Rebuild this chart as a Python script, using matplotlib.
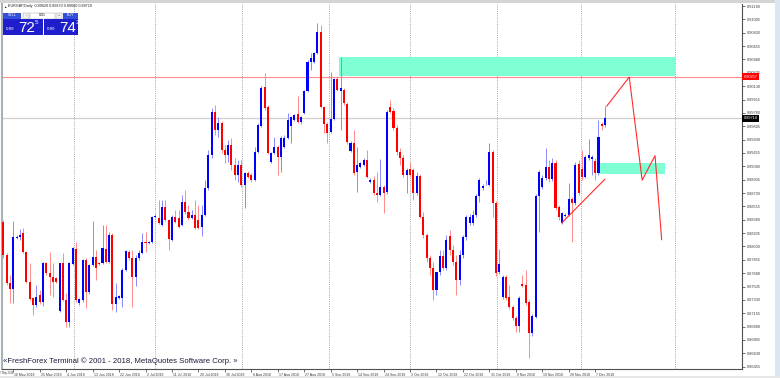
import matplotlib
matplotlib.use("Agg")
import matplotlib.pyplot as plt
import numpy as np
from matplotlib.patches import Rectangle
from matplotlib.transforms import ScaledTranslation

plt.rcParams["font.family"] = ["Liberation Sans", "DejaVu Sans"]

# daily EURGBP candles
opens = [
    0.8835, 0.8792, 0.8755, 0.8747, 0.8814, 0.8815, 0.8821, 0.8796, 0.8757, 0.8736,
    0.8726, 0.8740, 0.8730, 0.8781, 0.8768, 0.8763, 0.8762, 0.8719, 0.8781, 0.8733,
    0.8704, 0.8780, 0.8800, 0.8729, 0.8733, 0.8785, 0.8743, 0.8779, 0.8789, 0.8781,
    0.8781, 0.8800, 0.8783, 0.8818, 0.8728, 0.8736, 0.8736, 0.8772, 0.8796, 0.8788,
    0.8763, 0.8788, 0.8795, 0.8809, 0.8808, 0.8809, 0.8842, 0.8840, 0.8831, 0.8855,
    0.8838, 0.8812, 0.8842, 0.8840, 0.8831, 0.8861, 0.8848, 0.8840, 0.8844, 0.8838,
    0.8829, 0.8844, 0.8880, 0.8923, 0.8979, 0.8956, 0.8965, 0.8930, 0.8923, 0.8936,
    0.8910, 0.8897,
    0.8910, 0.8884, 0.8899, 0.8897, 0.8890, 0.8927, 0.8961, 0.9012, 0.8986, 0.8914,
    0.8925, 0.8933, 0.8920, 0.8933, 0.8945, 0.8961, 0.8969, 0.8977, 0.8966, 0.8978,
    0.9007, 0.9045, 0.9045, 0.9056, 0.9084, 0.8986, 0.8963, 0.8953, 0.8970, 0.9022,
    0.9007, 0.9008, 0.8990, 0.8928, 0.8939, 0.8901, 0.8907, 0.8910, 0.8916, 0.8888,
    0.8890, 0.8873, 0.8871, 0.8881, 0.8874, 0.8986, 0.8980, 0.8958, 0.8927, 0.8919,
    0.8897, 0.8905, 0.8903, 0.8873, 0.8896, 0.8842, 0.8818, 0.8788, 0.8775, 0.8746,
    0.8770, 0.8790, 0.8775, 0.8817, 0.8798, 0.8783, 0.8759, 0.8792, 0.8815,
    0.8834, 0.8834, 0.8844, 0.8869, 0.8880, 0.8887, 0.8884, 0.8927, 0.8860, 0.8770,
    0.8737, 0.8763, 0.8737, 0.8724, 0.8709, 0.8699, 0.8754, 0.8753, 0.8730, 0.8690,
    0.8711, 0.8869, 0.8881, 0.8893, 0.8907, 0.8891, 0.8912, 0.8855, 0.8834, 0.8843,
    0.8844, 0.8865, 0.8860, 0.8911, 0.8905, 0.8894, 0.8919, 0.8918, 0.8915, 0.8899,
    0.8963, 0.8962,
]
highs = [
    0.8838, 0.8795, 0.8766, 0.8836, 0.8818, 0.8826, 0.8827, 0.8797, 0.8781, 0.8737,
    0.8753, 0.8746, 0.8783, 0.8783, 0.8796, 0.8781, 0.8763, 0.8781, 0.8794, 0.8742,
    0.8783, 0.8802, 0.8809, 0.8736, 0.8787, 0.8788, 0.8780, 0.8836, 0.8798, 0.8783,
    0.8831, 0.8831, 0.8822, 0.8821, 0.8755, 0.8740, 0.8775, 0.8798, 0.8798, 0.8798,
    0.8792, 0.8798, 0.8821, 0.8822, 0.8810, 0.8843, 0.8846, 0.8864, 0.8864, 0.8864,
    0.8839, 0.8844, 0.8851, 0.8851, 0.8871, 0.8877, 0.8857, 0.8851, 0.8864, 0.8857,
    0.8857, 0.8890, 0.8930, 0.8985, 0.8988, 0.8972, 0.8968, 0.8936, 0.8943, 0.8945,
    0.8919, 0.8916,
    0.8916, 0.8901, 0.8902, 0.8899, 0.8933, 0.8965, 0.9013, 0.9030, 0.8988, 0.8927,
    0.8946, 0.8936, 0.8948, 0.8949, 0.8978, 0.8974, 0.8976, 0.9000, 0.8974, 0.9008,
    0.9047, 0.9056, 0.9058, 0.9096, 0.9093, 0.8987, 0.8966, 0.9032, 0.9024, 0.9026,
    0.9051, 0.9011, 0.8992, 0.8941, 0.8956, 0.8933, 0.8914, 0.8919, 0.8930, 0.8893,
    0.8895, 0.8901, 0.8918, 0.8884, 0.8982, 0.8995, 0.8984, 0.8962, 0.8932, 0.8923,
    0.8906, 0.8914, 0.8906, 0.8901, 0.8898, 0.8848, 0.8821, 0.8792, 0.8783, 0.8762,
    0.8798, 0.8798, 0.8818, 0.8825, 0.8805, 0.8792, 0.8798, 0.8818, 0.8844,
    0.8846, 0.8851, 0.8872, 0.8893, 0.8885, 0.8890, 0.8939, 0.8930, 0.8863, 0.8800,
    0.8766, 0.8766, 0.8753, 0.8726, 0.8712, 0.8738, 0.8766, 0.8772, 0.8733, 0.8715,
    0.8872, 0.8903, 0.8897, 0.8932, 0.8916, 0.8919, 0.8916, 0.8857, 0.8848, 0.8847,
    0.8886, 0.8868, 0.8914, 0.8916, 0.8930, 0.8923, 0.8944, 0.8923, 0.8919, 0.8969,
    0.8966, 0.8987,
]
lows = [
    0.8788, 0.8753, 0.8729, 0.8729, 0.8813, 0.8812, 0.8795, 0.8755, 0.8733, 0.8713,
    0.8724, 0.8728, 0.8725, 0.8766, 0.8740, 0.8737, 0.8755, 0.8717, 0.8732, 0.8698,
    0.8698, 0.8779, 0.8730, 0.8726, 0.8730, 0.8722, 0.8741, 0.8777, 0.8759, 0.8779,
    0.8780, 0.8781, 0.8781, 0.8720, 0.8717, 0.8734, 0.8724, 0.8771, 0.8785, 0.8724,
    0.8751, 0.8785, 0.8793, 0.8796, 0.8806, 0.8808, 0.8840, 0.8832, 0.8830, 0.8836,
    0.8798, 0.8810, 0.8834, 0.8827, 0.8830, 0.8846, 0.8838, 0.8839, 0.8826, 0.8826,
    0.8817, 0.8843, 0.8877, 0.8919, 0.8949, 0.8946, 0.8925, 0.8912, 0.8914, 0.8903,
    0.8890, 0.8888,
    0.8881, 0.8853, 0.8893, 0.8888, 0.8889, 0.8926, 0.8960, 0.8982, 0.8924, 0.8912,
    0.8924, 0.8897, 0.8901, 0.8932, 0.8944, 0.8938, 0.8967, 0.8965, 0.8963, 0.8977,
    0.9005, 0.9034, 0.9043, 0.9055, 0.8984, 0.8952, 0.8938, 0.8952, 0.8969, 0.9007,
    0.8956, 0.8988, 0.8937, 0.8927, 0.8897, 0.8874, 0.8906, 0.8908, 0.8893, 0.8886,
    0.8871, 0.8861, 0.8869, 0.8847, 0.8872, 0.8978, 0.8956, 0.8923, 0.8910, 0.8894,
    0.8873, 0.8894, 0.8864, 0.8871, 0.8840, 0.8814, 0.8783, 0.8766, 0.8733, 0.8740,
    0.8766, 0.8772, 0.8772, 0.8792, 0.8779, 0.8740, 0.8753, 0.8788, 0.8812,
    0.8831, 0.8831, 0.8842, 0.8861, 0.8877, 0.8884, 0.8882, 0.8842, 0.8764, 0.8767,
    0.8734, 0.8733, 0.8721, 0.8707, 0.8691, 0.8691, 0.8750, 0.8726, 0.8657, 0.8686,
    0.8709, 0.8822, 0.8878, 0.8890, 0.8888, 0.8889, 0.8851, 0.8838, 0.8832, 0.8842,
    0.8843, 0.8809, 0.8857, 0.8871, 0.8890, 0.8893, 0.8916, 0.8897, 0.8890, 0.8897,
    0.8956, 0.8960,
]
closes = [
    0.8792, 0.8755, 0.8747, 0.8815, 0.8816, 0.8818, 0.8796, 0.8757, 0.8734, 0.8726,
    0.8737, 0.8730, 0.8781, 0.8768, 0.8763, 0.8757, 0.8757, 0.8781, 0.8733, 0.8704,
    0.8781, 0.8801, 0.8733, 0.8734, 0.8785, 0.8743, 0.8779, 0.8789, 0.8775, 0.8780,
    0.8801, 0.8783, 0.8818, 0.8728, 0.8737, 0.8738, 0.8772, 0.8797, 0.8788, 0.8763,
    0.8788, 0.8795, 0.8809, 0.8808, 0.8809, 0.8842, 0.8843, 0.8834, 0.8855, 0.8838,
    0.8813, 0.8842, 0.8835, 0.8829, 0.8861, 0.8848, 0.8840, 0.8844, 0.8827, 0.8827,
    0.8844, 0.8880, 0.8923, 0.8979, 0.8956, 0.8965, 0.8930, 0.8923, 0.8936, 0.8910,
    0.8897, 0.8910,
    0.8884, 0.8899, 0.8894, 0.8890, 0.8927, 0.8962, 0.9011, 0.8984, 0.8925, 0.8925,
    0.8933, 0.8920, 0.8945, 0.8945, 0.8969, 0.8973, 0.8975, 0.8966, 0.8973, 0.9007,
    0.9045, 0.9050, 0.9056, 0.9084, 0.8986, 0.8963, 0.8952, 0.8970, 0.9022, 0.9008,
    0.9011, 0.8991, 0.8940, 0.8939, 0.8899, 0.8910, 0.8912, 0.8916, 0.8894, 0.8890,
    0.8873, 0.8871, 0.8881, 0.8873, 0.8979, 0.8979, 0.8958, 0.8927, 0.8919, 0.8897,
    0.8903, 0.8897, 0.8873, 0.8896, 0.8842, 0.8818, 0.8788, 0.8775, 0.8746, 0.8770,
    0.8790, 0.8775, 0.8812, 0.8798, 0.8783, 0.8759, 0.8792, 0.8815, 0.8841,
    0.8841, 0.8844, 0.8869, 0.8890, 0.8882, 0.8888, 0.8927, 0.8860, 0.8768, 0.8780,
    0.8763, 0.8736, 0.8724, 0.8709, 0.8699, 0.8736, 0.8751, 0.8729, 0.8690, 0.8712,
    0.8869, 0.8901, 0.8893, 0.8907, 0.8891, 0.8912, 0.8854, 0.8842, 0.8847, 0.8844,
    0.8865, 0.8860, 0.8910, 0.8873, 0.8894, 0.8920, 0.8923, 0.8920, 0.8899, 0.8947,
    0.8961, 0.8971,
]

price_ticks = [
    0.91180, 0.91005, 0.90830, 0.90655, 0.90480, 0.90305, 0.90130, 0.89955, 0.89780,
    0.89605, 0.89430, 0.89255, 0.89080, 0.88905, 0.88730, 0.88555, 0.88380, 0.88205,
    0.88030, 0.87855, 0.87680, 0.87505, 0.87330, 0.87155, 0.86980, 0.86805, 0.86630,
    0.86455,
]
first_date = "7 May 2018"
date_labels = [
    "16 May 2018", "25 May 2018", "4 Jun 2018", "13 Jun 2018", "22 Jun 2018",
    "2 Jul 2018", "11 Jul 2018", "20 Jul 2018", "30 Jul 2018", "8 Aug 2018",
    "17 Aug 2018", "27 Aug 2018", "5 Sep 2018", "14 Sep 2018", "24 Sep 2018",
    "3 Oct 2018", "12 Oct 2018", "22 Oct 2018", "31 Oct 2018", "9 Nov 2018",
    "19 Nov 2018", "28 Nov 2018", "7 Dec 2018",
]
grid_bars = [21.4, 45.9, 72.2, 98.5, 123.0, 149.3, 174.7, 203.1]

# drawn objects
resistance_level = 0.90257
supply_zone = (101.6, 203.1, 0.9026, 0.9051)
demand_zone = (179.9, 200.1, 0.8898, 0.8912)
zigzag_bars = [182.5, 189.3, 193.2, 197.1, 199.1]
zigzag_prices = [0.8987, 0.9025, 0.8890, 0.8922, 0.8812]
trend_bars = [168.9, 181.9]
trend_prices = [0.8834, 0.8891]

W, H = 780, 378
fig = plt.figure(figsize=(W / 100, H / 100), dpi=100, facecolor="white")
ax = fig.add_axes([2 / W, 9 / H, 740 / W, 365 / H])

o = np.array(opens)
h = np.array(highs)
lo = np.array(lows)
c = np.array(closes)
x = np.arange(len(c))
up = c >= o

for bx in grid_bars:
    ax.axvline(bx, color="#9a9a9a", lw=0.6, ls=(0, (1.2, 1.4)), zorder=0)

for x0, x1, p0, p1 in (supply_zone, demand_zone):
    ax.add_patch(Rectangle((x0, p0), x1 - x0, p1 - p0, facecolor="#7fffd4",
                           edgecolor="none", zorder=1))

ax.axhline(resistance_level, color="#ff8c8c", lw=0.8, zorder=1.5)
ax.axhline(c[-1], color="#cfcfcf", lw=0.9, zorder=1.5)

ax.vlines(x[up], lo[up], h[up], color="#8a8aff", lw=0.7, zorder=2)
ax.vlines(x[~up], lo[~up], h[~up], color="#ff8a8a", lw=0.7, zorder=2)
body = np.maximum(np.abs(c - o), 0.00008)
ax.bar(x, body, bottom=np.minimum(o, c), width=0.62,
       color=np.where(up, "#0000ff", "#ff0000"), linewidth=0, zorder=3)

ax.plot(zigzag_bars, zigzag_prices, color="#ff2a2a", lw=0.8, zorder=4)
ax.plot(trend_bars, trend_prices, color="#ff2a2a", lw=0.8, zorder=4)

ax.set_xlim(-0.4, 223.4)
ax.set_ylim(0.86425, 0.91207)

ax.yaxis.tick_right()
ax.set_yticks(price_ticks)
ax.set_yticklabels([f"{p:.5f}" for p in price_ticks])
ax.tick_params(axis="y", labelsize=2.8, length=2, width=0.5, pad=1.2,
               colors="#3a3a3a")

date_pos = [3 + 8 * i for i in range(len(date_labels))]
ax.set_xticks(date_pos)
ax.set_xticklabels(date_labels, ha="left")
ax.tick_params(axis="x", labelsize=2.5, length=2, width=0.5, pad=0.8,
               colors="#3a3a3a")
shift = ScaledTranslation(0.012, 0, fig.dpi_scale_trans)
for lbl in ax.get_xticklabels():
    lbl.set_transform(lbl.get_transform() + shift)

ax.spines["top"].set_visible(False)
ax.spines["left"].set_color("#a8b0b8")
ax.spines["left"].set_linewidth(1.5)
for s in ("right", "bottom"):
    ax.spines[s].set_color("#505050")
    ax.spines[s].set_linewidth(0.8)

for level, fc in ((resistance_level, "#ff0000"), (c[-1], "#000000")):
    ax.annotate(f"{level:.5f}", xy=(1, level), xycoords=("axes fraction", "data"),
                xytext=(1.2, 0), textcoords="offset points", ha="left", va="center",
                fontsize=2.8, color="white", annotation_clip=False, zorder=6,
                bbox=dict(boxstyle="square,pad=0.45", fc=fc, ec="none"))

# terminal chrome drawn in pixel space
ov = fig.add_axes([0, 0, 1, 1], zorder=10)
ov.set_xlim(0, W)
ov.set_ylim(H, 0)
ov.axis("off")
ov.patch.set_alpha(0)

ov.add_patch(Rectangle((0, 0), W, 3.2, facecolor="#d4d4d4", edgecolor="none"))
ov.add_patch(Rectangle((775, 0), 5, H, facecolor="#dbe6f3", edgecolor="none"))
ov.add_patch(Rectangle((0, 375.5), W, 2.5, facecolor="#e6e6e6", edgecolor="none"))

ov.text(3, 6.5, "▲", fontsize=2.4, color="#202020", va="center", ha="left")
ov.text(8, 6.5, f"EURGBP,Daily  {o[-1]:.5f} {h[-1]:.5f} {lo[-1]:.5f} {c[-1]:.5f}",
        fontsize=2.7, color="#202020", va="center", ha="left")
ov.text(0.3, 373, first_date, fontsize=1.8, color="#3a3a3a", va="center", ha="left")

btn = "#3550d8"
big = "#1e1ecc"
ov.add_patch(Rectangle((3.3, 12.5), 17.5, 6, facecolor=btn, edgecolor="none"))
ov.text(12, 15.5, "SELL", fontsize=2.6, color="white", ha="center", va="center")
ov.add_patch(Rectangle((22.7, 12.5), 6.6, 6, facecolor="#f2f2f2", edgecolor="#9a9a9a", lw=0.3))
ov.text(26, 15.5, "-", fontsize=2.6, color="#333333", ha="center", va="center")
ov.add_patch(Rectangle((30, 12.5), 25, 6, facecolor="white", edgecolor="#9a9a9a", lw=0.3))
ov.text(42.5, 15.5, "0.01", fontsize=2.6, color="#111111", ha="center", va="center")
ov.add_patch(Rectangle((55.5, 12.5), 6.8, 6, facecolor="#f2f2f2", edgecolor="#9a9a9a", lw=0.3))
ov.text(59, 15.5, "+", fontsize=2.6, color="#333333", ha="center", va="center")
ov.add_patch(Rectangle((63.3, 12.5), 15, 6, facecolor=btn, edgecolor="none"))
ov.text(70.8, 15.5, "BUY", fontsize=2.6, color="white", ha="center", va="center")

for x0, x1, big_digits, small_digit in ((3.3, 42.7, "72", "5"), (44.3, 78.3, "74", "2")):
    ov.add_patch(Rectangle((x0, 19), x1 - x0, 16, facecolor=big, edgecolor="none"))
    ov.text(x0 + 3, 29.5, "0.89", fontsize=3.2, color="white", ha="left", va="center")
    ov.text(x0 + 14.5, 27.5, big_digits, fontsize=11, color="white", ha="left", va="center")
    ov.text(x0 + 31, 23, small_digit, fontsize=4.5, color="white", ha="left", va="center")

ov.text(3, 361.5, "«FreshForex Terminal © 2001 - 2018, MetaQuotes Software Corp. »",
        fontsize=5.6, color="#1c1c3c", ha="left", va="center")

fig.savefig("out.png", dpi=100, facecolor="white")
